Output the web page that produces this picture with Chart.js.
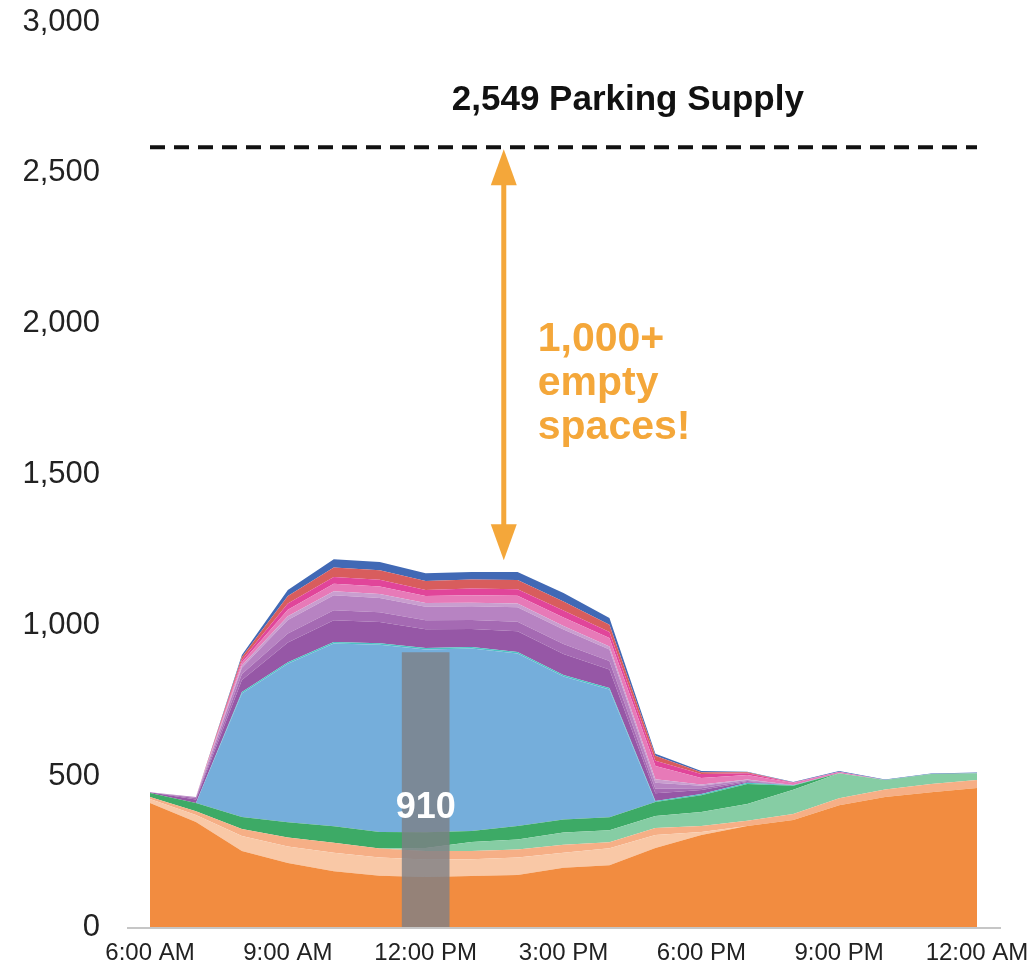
<!DOCTYPE html>
<html>
<head>
<meta charset="utf-8">
<script src="https://cdn.jsdelivr.net/npm/chart.js@4.4.1/dist/chart.umd.min.js"></script>
<style>
  html,body{margin:0;padding:0;background:#fff;}
  canvas{display:block;}
</style>
</head>
<body>
<canvas id="c" width="1033" height="970"></canvas>
<script>
// hourly occupancy, 6 AM to midnight
const hours = ["6:00 AM","7:00 AM","8:00 AM","9:00 AM","10:00 AM","11:00 AM","12:00 PM","1:00 PM","2:00 PM",
  "3:00 PM","4:00 PM","5:00 PM","6:00 PM","7:00 PM","8:00 PM","9:00 PM","10:00 PM","11:00 PM","12:00 AM"];
const yTicks = [0, 500, 1000, 1500, 2000, 2500, 3000];

// stacked layers, bottom to top
const orange      = [411,348,252,212,185,170,166,169,172,196,205,262,305,335,355,404,431,447,461];
const palePeach   = [13,23,50,55,61,60,58,56,58,50,56,43,10,0,0,0,0,0,0];
const peach       = [7,13,23,30,33,30,28,27,27,27,20,23,20,17,20,23,25,27,26];
const lightGreen  = [0,0,0,0,0,0,10,30,33,40,40,40,46,56,80,83,31,33,23];
const green       = [13,27,40,50,55,55,52,36,45,43,43,46,56,66,13,0,0,0,0];
const blue        = [0,0,409,526,606,621,606,605,572,474,423,0,0,0,0,0,0,0,0];
const teal        = [0,0,5,5,5,5,5,5,5,5,5,4,4,4,2,0,0,0,0];
const darkPurple  = [3,12,40,65,72,70,62,60,68,70,62,25,13,3,0,0,0,0,0];
const purple      = [0,5,20,30,33,32,30,30,32,33,28,15,6,3,0,0,0,0,0];
const lightPurple = [0,3,20,45,50,48,45,45,48,48,38,20,8,3,1,0,0,0,0];
const lavender    = [0,0,8,12,13,13,12,12,12,12,10,12,4,2,0,0,0,0,0];
const pink        = [0,0,10,22,25,25,23,25,26,28,28,44,22,15,6,5,0,0,0];
const magenta     = [0,0,8,20,22,22,20,22,22,23,20,17,13,6,2,0,0,0,0];
const red         = [0,0,10,25,32,32,30,30,30,30,24,17,6,3,0,0,0,0,0];
const darkBlue    = [0,0,7,20,27,27,26,25,27,28,22,6,4,2,2,2,2,2,2];

const peakHour = 6;        // 12:00 PM
const peakValue = 910;
const supplyLevel = 2585;  // where the dashed line sits
const supplyText = "2,549 Parking Supply";
const arrowAt = 7.7, arrowBottom = 1216;

const layers = [
  [orange,"#F28C40"],[palePeach,"#F9C8A6"],[peach,"#F6AF86"],[lightGreen,"#86CDA4"],[green,"#3DAA66"],
  [blue,"#75AEDB"],[teal,"#4DC3C3"],[darkPurple,"#9657A6"],[purple,"#A56AB3"],[lightPurple,"#B783C2"],
  [lavender,"#C99ECF"],[pink,"#E77AB8"],[magenta,"#E1459A"],[red,"#D85D5D"],[darkBlue,"#4169B5"]
];

const datasets = layers.map(([data,color],i)=>({
  type:"line", data, backgroundColor:color, borderColor:color, borderWidth:0,
  pointRadius:0, tension:0, fill: i===0 ? "origin" : "-1", order:1
}));
datasets.push({
  type:"bar", stack:"peak", order:0,
  data: hours.map((h,i)=> i===peakHour ? peakValue : null),
  backgroundColor:"rgba(125,128,134,0.8)", barThickness:47
});
datasets.push({
  type:"line", stack:"supply", order:0, fill:false,
  data: hours.map(()=>supplyLevel),
  borderColor:"#111", borderWidth:4, borderDash:[15,9], pointRadius:0
});

const overlay = {
  id:"overlay",
  beforeDatasetsDraw(chart){
    const {ctx, chartArea:a} = chart;
    ctx.save();
    ctx.strokeStyle = "#C6C6C6"; ctx.lineWidth = 2;
    ctx.beginPath(); ctx.moveTo(a.left-23, a.bottom+1); ctx.lineTo(a.right+24, a.bottom+1); ctx.stroke();
    ctx.restore();
  },
  afterDatasetsDraw(chart){
    const {ctx, scales:{x,y}} = chart;
    ctx.save();
    const orangeTxt = "#F4A73A";
    // double arrow
    const ax = x.getPixelForValue(arrowAt);
    const top = y.getPixelForValue(supplyLevel)+2, bot = y.getPixelForValue(arrowBottom);
    ctx.fillStyle = orangeTxt; ctx.strokeStyle = orangeTxt; ctx.lineWidth = 5;
    ctx.beginPath(); ctx.moveTo(ax, top+30); ctx.lineTo(ax, bot-30); ctx.stroke();
    ctx.beginPath(); ctx.moveTo(ax, top); ctx.lineTo(ax-13, top+36); ctx.lineTo(ax+13, top+36); ctx.closePath(); ctx.fill();
    ctx.beginPath(); ctx.moveTo(ax, bot); ctx.lineTo(ax-13, bot-36); ctx.lineTo(ax+13, bot-36); ctx.closePath(); ctx.fill();

    ctx.font = "bold 41px 'Liberation Sans', Arial, sans-serif";
    ctx.textAlign = "left"; ctx.textBaseline = "middle";
    const tx = x.getPixelForValue(8.44), ty = y.getPixelForValue(1946);
    ["1,000+","empty","spaces!"].forEach((s,i)=> ctx.fillText(s, tx, ty + i*44));

    ctx.fillStyle = "#111";
    ctx.font = "bold 35px 'Liberation Sans', Arial, sans-serif";
    ctx.textAlign = "center";
    ctx.fillText(supplyText, x.getPixelForValue(10.4), y.getPixelForValue(2741));

    ctx.fillStyle = "#fff";
    ctx.font = "bold 36px 'Liberation Sans', Arial, sans-serif";
    ctx.fillText(String(peakValue), x.getPixelForValue(peakHour), y.getPixelForValue(395));
    ctx.restore();
  }
};

new Chart(document.getElementById("c"), {
  type:"line",
  data:{ labels:hours, datasets },
  options:{
    responsive:false, animation:false, devicePixelRatio:1,
    layout:{ padding:{ top:22, right:56, left:0, bottom:0 } },
    plugins:{ legend:{display:false}, tooltip:{enabled:false} },
    scales:{
      x:{
        offset:false,
        grid:{ display:false, drawTicks:false }, border:{ display:false },
        ticks:{ autoSkip:false, maxRotation:0, padding:12, color:"#222",
          font:{ family:"'Liberation Sans', Arial", size:24 },
          callback:(v,i)=> i%3===0 ? hours[i] : "" },
        afterFit:(s)=>{ s.height = 43; s.paddingLeft = 0; s.paddingRight = 0; }
      },
      y:{
        stacked:true, min:0, max:3000,
        grid:{ display:false, drawTicks:false }, border:{ display:false },
        ticks:{ stepSize:500, padding:50, color:"#222",
          font:{ family:"'Liberation Sans', Arial", size:31 },
          callback:(v)=> yTicks.includes(v) ? v.toLocaleString("en-US") : "" },
        afterFit:(s)=>{ s.width = 150; s.paddingTop = 0; s.paddingBottom = 0; }
      }
    }
  },
  plugins:[overlay]
});
</script>
</body>
</html>
